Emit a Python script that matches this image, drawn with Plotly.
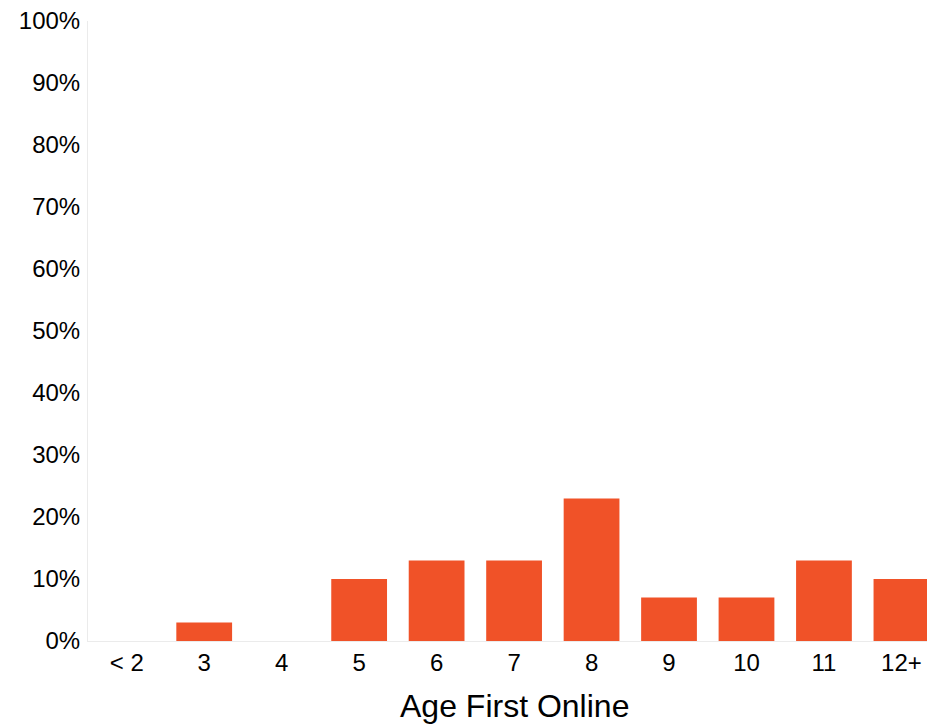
import plotly.graph_objects as go

categories = ["< 2", "3", "4", "5", "6", "7", "8", "9", "10", "11", "12+"]
values = [0, 3, 0, 10, 13, 13, 23, 7, 7, 13, 10]
y_ticks = [0, 10, 20, 30, 40, 50, 60, 70, 80, 90, 100]
y_tick_labels = [f"{v}%" for v in y_ticks]
x_title = "Age First Online"

fig = go.Figure(go.Bar(x=categories, y=values, marker=dict(color="#F05228", line=dict(width=0))))

fig.update_layout(
    width=927, height=726,
    margin=dict(l=88, r=0, t=21, b=85),
    paper_bgcolor="white", plot_bgcolor="white",
    bargap=0.28,
    showlegend=False,
    font=dict(family="Liberation Sans, Arial, sans-serif", color="#000000"),
)
# axis title centred on the full (partly cropped) category span
fig.add_annotation(
    text=x_title, xref="x", x=5, yref="paper", y=-0.105,
    xanchor="center", yanchor="middle", showarrow=False,
    font=dict(size=32, color="#000000"),
)
fig.update_xaxes(
    type="category",
    range=[-0.5, 10.33],
    showline=True, linecolor="#EBEBEB", linewidth=1,
    showgrid=False, ticks="", tickfont=dict(size=24),
)
fig.update_yaxes(
    range=[0, 100],
    tickvals=y_ticks, ticktext=y_tick_labels,
    showline=True, linecolor="#EBEBEB", linewidth=1,
    showgrid=False, zeroline=False, ticks="",
    tickfont=dict(size=24), ticklabelstandoff=2,
    ticklabeloverflow="allow",
)

# remove the default page margin so the figure fills the window exactly
fig.write_html(
    "out.html",
    config={"displayModeBar": False},
    post_script="document.body.style.margin='0';document.body.style.overflow='hidden';",
)
